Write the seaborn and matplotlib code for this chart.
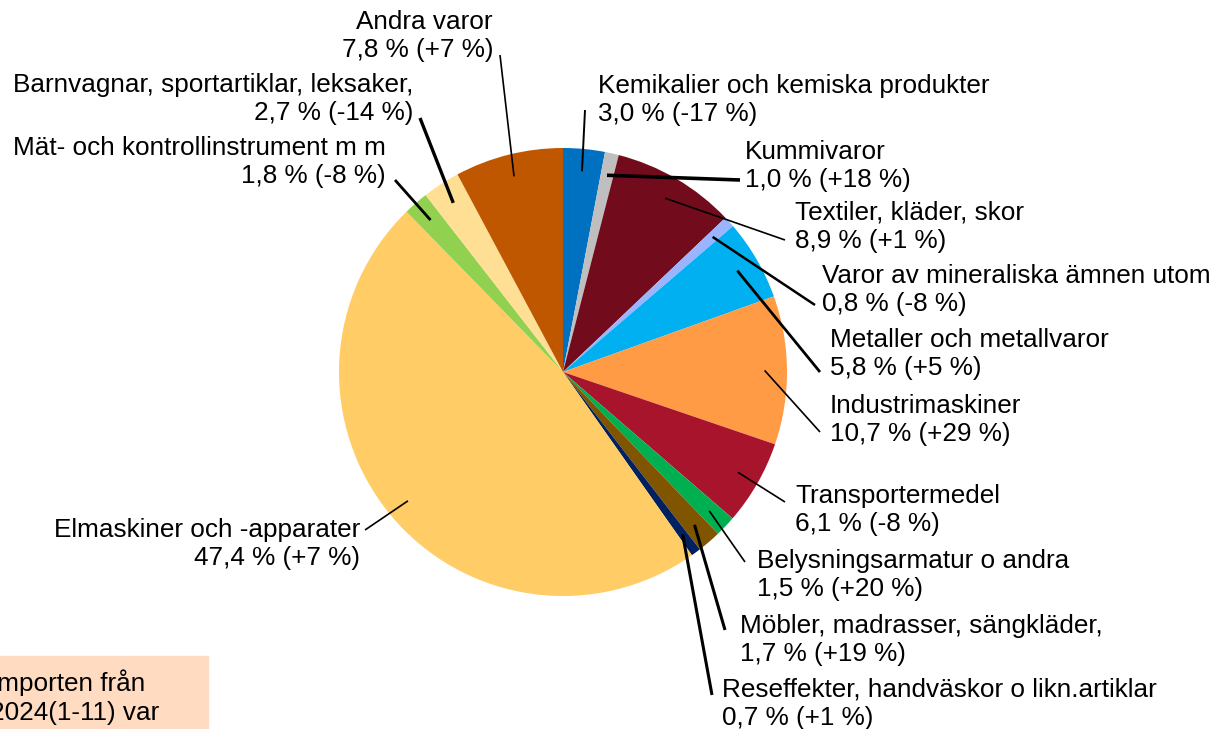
import numpy as np
import seaborn as sns
import matplotlib.pyplot as plt
from matplotlib.patches import Rectangle

# Varugrupper, andel av importen (%) och förändring (%)
groups = ['Kemikalier och kemiska produkter', 'Kummivaror', 'Textiler, kläder, skor',
          'Varor av mineraliska ämnen utom', 'Metaller och metallvaror', 'Industrimaskiner',
          'Transportermedel', 'Belysningsarmatur o andra', 'Möbler, madrasser, sängkläder,',
          'Reseffekter, handväskor o likn.artiklar', 'Elmaskiner och -apparater',
          'Mät- och kontrollinstrument m m', 'Barnvagnar, sportartiklar, leksaker,', 'Andra varor']
shares = [3.0, 1.0, 8.9, 0.8, 5.8, 10.7, 6.1, 1.5, 1.7, 0.7, 47.4, 1.8, 2.7, 7.8]
changes = [-17, 18, 1, -8, 5, 29, -8, 20, 19, 1, 7, -8, -14, 7]
colors = ['#0070C0', '#BFBFBF', '#720C1C', '#9BB4FF', '#00B0F0', '#FF9A45', '#A8142C',
          '#00B050', '#7F5500', '#002060', '#FFCC66', '#92D050', '#FFDF94', '#BF5700']

W, H = 1211, 729
cx, cy, R = 563, 372, 224

# etikettlayout i pixlar (ovanifrån): textens x, textens mitt y, ha, linjens slut, linjebredd
layout = [
    (598, 100, 'left', (585, 110), 1.4),
    (745, 166, 'left', (740, 180), 2.6),
    (795, 227, 'left', (785, 240), 1.2),
    (822, 290, 'left', (815, 305), 1.8),
    (830, 354, 'left', (820, 372), 2.0),
    (830, 420, 'left', (820, 432), 1.2),
    (795, 510, 'left', (785, 502), 1.2),
    (757, 575, 'left', (745, 562), 1.2),
    (740, 640, 'left', (725, 630), 2.2),
    (722, 704, 'left', (712, 695), 2.2),
    (360, 544, 'right', (365, 530), 1.2),
    (386, 162, 'right', (395, 180), 2.0),
    (413, 99, 'right', (420, 118), 2.4),
    (493, 36, 'right', (500, 55), 1.2),
]

sns.set_theme(style='white')
plt.rcParams['font.family'] = ['Liberation Sans', 'DejaVu Sans']

fig = plt.figure(figsize=(W / 100, H / 100), dpi=100)
ax = fig.add_axes([0, 0, 1, 1])

wedges, _ = ax.pie(shares, colors=colors, startangle=90, counterclock=False,
                   center=(cx, H - cy), radius=R, wedgeprops=dict(linewidth=0))

for w, g, s, c, (tx, ty, ha, (lx, ly), lw) in zip(wedges, groups, shares, changes, layout):
    mid = np.deg2rad((w.theta1 + w.theta2) / 2)
    px = cx + 0.9 * R * np.cos(mid)
    py = (H - cy) + 0.9 * R * np.sin(mid)
    ax.plot([px, lx], [py, H - ly], color='black', lw=lw, solid_capstyle='butt')
    value = f"{s:.1f}".replace('.', ',')
    label = f"{g}\n{value} % ({c:+d} %)"
    ax.text(tx, H - ty, label, ha=ha, va='center', multialignment=ha,
            fontsize=18.8, linespacing=1.25, color='black')

# informationsruta nere till vänster (avklippt)
ax.add_patch(Rectangle((0, 0), 208, H - 656, color='#FFDCC1', zorder=0))
ax.text(-10, H - 697, 'Importen från\n2024(1-11) var', ha='left', va='center',
        fontsize=18.8, linespacing=1.25, color='black')

ax.set_xlim(0, W)
ax.set_ylim(0, H)
ax.set_aspect('equal')
ax.axis('off')

fig.savefig('out.png', dpi=100)
